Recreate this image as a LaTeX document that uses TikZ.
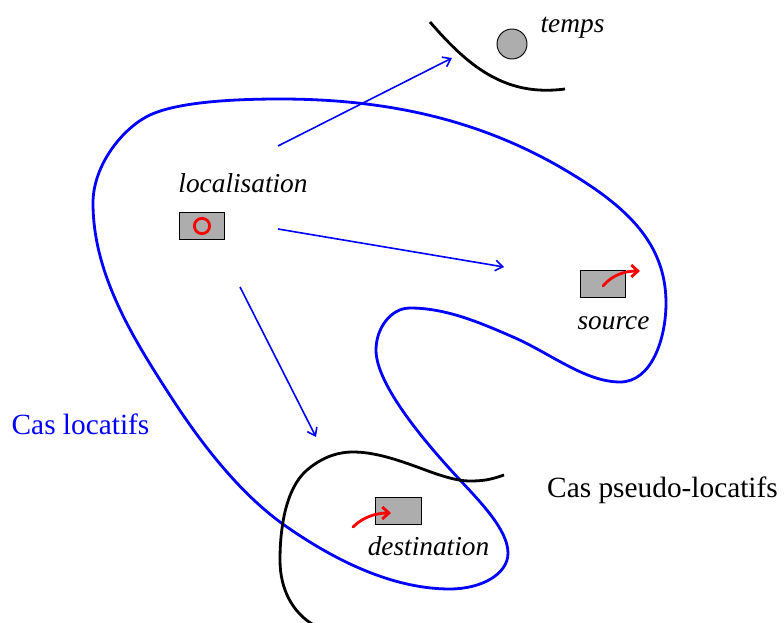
\documentclass[tikz,border=0pt]{standalone}
\usepackage{fontspec}
\usetikzlibrary{arrows.meta}
\setmainfont{Liberation Serif}

\begin{document}
\begin{tikzpicture}[x=0.75pt,y=-0.75pt,
    blueline/.style ={blue, line width=2.1pt},
    blackline/.style ={black, line width=2.1pt},
    flowarrow/.style ={blue, line width=1.2pt, -{Straight Barb[length=5.5pt,width=8pt]}},
    movearrow/.style ={red, line width=2.1pt, line cap=round, -{Straight Barb[length=5pt,width=9pt]}},
    placebox/.style ={rectangle, draw, fill=black!32, minimum width=34pt, minimum height=20pt, inner sep=0pt, line width=0.7pt},
    caption/.style ={font=\fontsize{20.5}{24}\selectfont\itshape, inner sep=0pt},
    grouplabel/.style ={font=\fontsize{22}{26}\selectfont, inner sep=0pt}]
   \useasboundingbox (0,0) rectangle (784,623);

   % cas locatifs
   \draw[blueline] (280,99) .. controls (380,99) and (473,117) .. (560,167)
      .. controls (622,203) and (666,240) .. (666,303)
      .. controls (666,338) and (652,382) .. (620,382)
      .. controls (585,382) and (550,353) .. (513,337)
      .. controls (480,322.6) and (446,308) .. (410,308)
      .. controls (391,308) and (376,328) .. (376,350)
      .. controls (376,385) and (426,443.5) .. (460,480)
      .. controls (480,501.6) and (508,530) .. (508,553)
      .. controls (508,575) and (480,589) .. (450,589)
      .. controls (392,589) and (334.6,560) .. (287,527)
      .. controls (242,496) and (203,446) .. (173,400)
      .. controls (134,340) and (93,275) .. (93,203)
      .. controls (93,165) and (123,127.6) .. (150,115)
      .. controls (177,102.4) and (230,99) .. (280,99) -- cycle;

   % cas pseudo-locatifs
   \draw[blackline] (430,22) .. controls (468,66) and (505,97) .. (565,89);
   \draw[blackline] (504,475) .. controls (490,480) and (482,481) .. (470,481)
      .. controls (455,481) and (436,474) .. (420,468)
      .. controls (398,460) and (375,452) .. (353,452)
      .. controls (335,452) and (320,459) .. (307,470)
      .. controls (285,489) and (280,530) .. (280,560)
      .. controls (280,590) and (293,612) .. (312,624);

   \node[placebox] (localisationbox) at (202,226) {};
   \node[placebox] (sourcebox) at (603,284) {};
   \node[placebox] (destinationbox) at (398.5,511) {};
   \node[circle, draw, fill=black!32, minimum size=22.5pt, inner sep=0pt, line width=0.7pt] (tempscircle) at (512,44) {};
   \node[circle, draw=red, line width=2.1pt, minimum size=11.5pt, inner sep=0pt] (localisationmark) at (202,226) {};

   \node[caption] (localisation) at (243,183) {localisation};
   \node[caption] (source) at (613.5,323) {source};
   \node[caption] (destination) at (428.5,546) {destination};
   \node[caption] (temps) at (572.5,28) {temps};
   \node[grouplabel, text=blue] (locatifs) at (80.5,424) {Cas locatifs};
   \node[grouplabel] (pseudo) at (662.5,490) {Cas pseudo-locatifs};

   \coordinate (fromtemps) at (278,146);
   \coordinate (totemps) at (452,58);
   \coordinate (fromsource) at (278,229);
   \coordinate (tosource) at (504,267);
   \coordinate (fromdest) at (240,287);
   \coordinate (todest) at (316,437);
   \draw[flowarrow] (fromtemps) -- (totemps);
   \draw[flowarrow] (fromsource) -- (tosource);
   \draw[flowarrow] (fromdest) -- (todest);

   \coordinate (sourcestart) at (603,286);
   \coordinate (sourceend) at (640,271);
   \coordinate (deststart) at (353,527);
   \coordinate (destend) at (391,513);
   \draw[movearrow] (sourcestart) .. controls (612,275) and (625,271) .. (sourceend);
   \draw[movearrow] (deststart) .. controls (363,517) and (376,513) .. (destend);
\end{tikzpicture}
\end{document}
